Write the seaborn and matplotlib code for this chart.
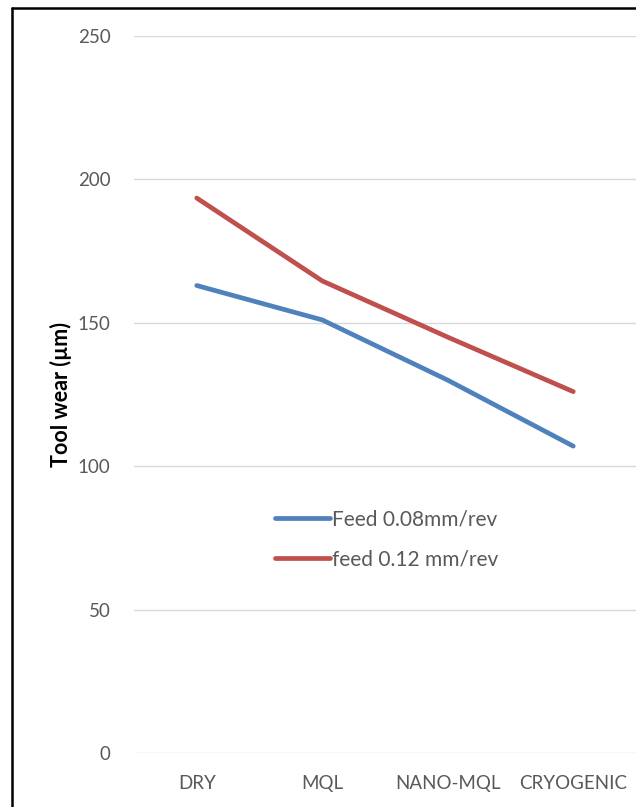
import matplotlib
matplotlib.use("Agg")
import matplotlib.pyplot as plt
import seaborn as sns
import pandas as pd
from matplotlib.lines import Line2D

categories = ["DRY", "MQL", "NANO-MQL", "CRYOGENIC"]
feed_008 = [163, 151, 130, 107]
feed_012 = [193.5, 164.6, 145, 126]
series_names = ["Feed 0.08mm/rev", "feed 0.12 mm/rev"]
yticks = [0, 50, 100, 150, 200, 250]

df = pd.DataFrame({
    "cat": categories * 2,
    "x": list(range(len(categories))) * 2,
    "wear": feed_008 + feed_012,
    "series": [series_names[0]] * 4 + [series_names[1]] * 4,
})

sns.set_theme(style="white")
plt.rcParams["font.family"] = ["Lato", "DejaVu Sans"]

fig = plt.figure(figsize=(6.36, 8.07), dpi=100)
ax = fig.add_axes([134 / 636, 1 - 753 / 807, 1.0 - 134 / 636, (753 - 36) / 807])

sns.lineplot(data=df, x="x", y="wear", hue="series", hue_order=series_names,
             palette=["#4F81BD", "#C0504D"], linewidth=3.4, ax=ax,
             solid_capstyle="round")

ax.set_xlim(-0.5, 3.5)
ax.set_ylim(0, 250)
ax.set_yticks(yticks)
ax.set_xticks(range(len(categories)))
ax.set_xticklabels(categories)
ax.grid(axis="y", color="#D9D9D9", linewidth=1)
ax.set_axisbelow(True)
for s in ax.spines.values():
    s.set_visible(False)
ax.tick_params(axis="y", length=0, pad=17, labelsize=13.5, labelcolor="#595959")
ax.tick_params(axis="x", length=0, pad=16, labelsize=13.5, labelcolor="#595959")
ax.set_xlabel("")
ax.set_ylabel("Tool wear (µm)", fontsize=15.5, fontweight="bold", color="black", labelpad=4)

leg = ax.legend(loc="upper left", bbox_to_anchor=(256 / 636, 1 - 491 / 807),
                bbox_transform=fig.transFigure, frameon=False, fontsize=15,
                handlelength=2.65, handletextpad=0.08, labelspacing=0.95,
                labelcolor="#595959")
for h in leg.get_lines():
    h.set_linewidth(3.4)

# outer border (left and top)
fig.add_artist(Line2D([12 / 636, 12 / 636], [0, 1 - 8 / 807], transform=fig.transFigure,
                      color="black", linewidth=1.8))
fig.add_artist(Line2D([12 / 636, 1], [1 - 8 / 807, 1 - 8 / 807], transform=fig.transFigure,
                      color="black", linewidth=1.8))

fig.savefig("out.png", dpi=100)
